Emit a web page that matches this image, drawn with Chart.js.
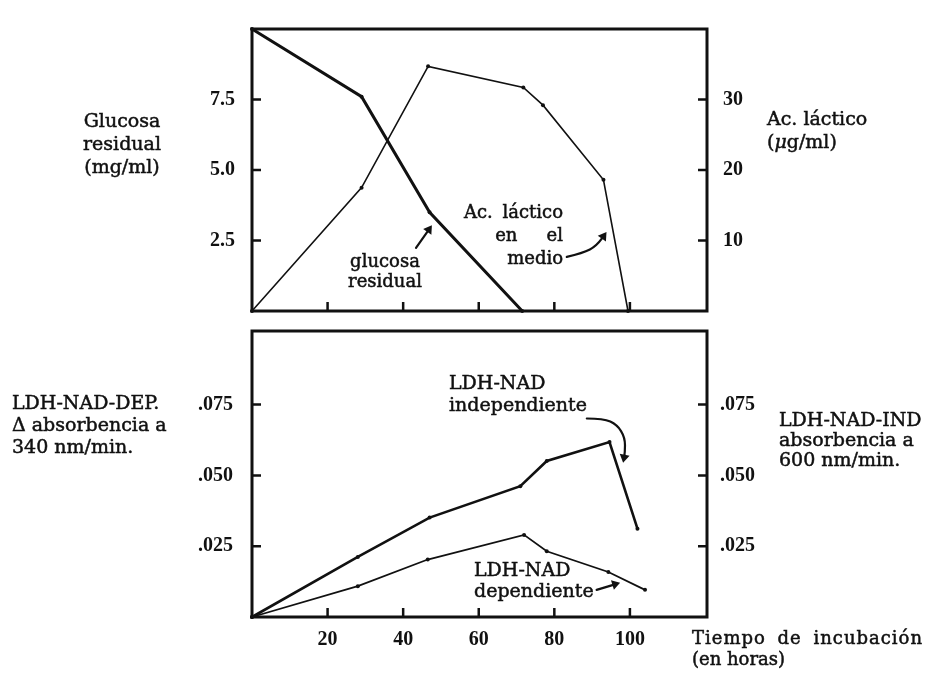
<!DOCTYPE html>
<html>
<head>
    <title>Glucosa residual, ácido láctico y LDH</title>
    <script src="https://cdn.jsdelivr.net/npm/chart.js"></script>
    <style>
        body {
            margin: 0;
            background: #fff;
            font-family: "DejaVu Serif", serif;
            color: #111;
        }
        #lienzo {
            position: relative;
            width: 929px;
            height: 674px;
        }
        canvas {
            position: absolute;
            left: 0;
        }
        #arriba { top: 0; }
        #abajo { top: 300px; }
        .txt {
            position: absolute;
            font-size: 18px;
            white-space: nowrap;
            -webkit-text-stroke: 0.5px #111;
        }
    </style>
</head>
<body>
<div id="lienzo">
    <canvas id="arriba" width="929" height="340"></canvas>
    <canvas id="abajo" width="929" height="374"></canvas>

    <div class="txt" style="left:42px;width:160px;top:109px;line-height:23px;text-align:center;font-size:19px">Glucosa<br>residual<br>(mg/ml)</div>
    <div class="txt" style="left:767px;top:107px;line-height:23px;font-size:19px">Ac. láctico<br>(<i>μ</i>g/ml)</div>
    <div class="txt" style="left:12px;top:391px;line-height:22px;font-size:19px">LDH-NAD-DEP.<br>Δ absorbencia a<br>340 nm/min.</div>
    <div class="txt" style="left:779px;top:409px;line-height:20px;font-size:19px">LDH-NAD-IND<br>absorbencia a<br>600 nm/min.</div>
    <div class="txt" style="left:692px;top:627px;line-height:21px"><span style="letter-spacing:1px;word-spacing:5px">Tiempo de incubación</span><br>(en horas)</div>

    <div class="txt" style="left:305px;width:160px;top:251px;line-height:20px;text-align:center">glucosa<br>residual</div>
    <div class="txt" style="right:366px;top:200px;line-height:23px;text-align:right;word-spacing:4px">Ac. láctico<br>en&nbsp;&nbsp;&nbsp;el<br>medio</div>
    <div class="txt" style="left:449px;top:371px;line-height:22px;font-size:19px">LDH-NAD<br>independiente</div>
    <div class="txt" style="left:474px;top:559px;line-height:21px;font-size:19px">LDH-NAD<br>dependiente</div>
</div>

<script>
    // eje de tiempo (horas)
    const horasTicks = [20, 40, 60, 80, 100];
    const horasMax = 120.4;

    // panel superior
    const glucosaHoras = [0, 29, 47, 71.5];
    const glucosaValores = [10, 7.6, 3.5, 0];
    const glucosaTicks = [2.5, 5.0, 7.5];

    const lacticoHoras = [0, 29, 46.6, 71.8, 77, 93, 99.5];
    const lacticoValores = [0, 17.5, 34.7, 31.7, 29.2, 18.6, 0];
    const lacticoTicks = [10, 20, 30];

    // panel inferior
    const indHoras = [0, 28, 47, 71, 78, 94.6, 102];
    const indValores = [0, 0.0212, 0.0351, 0.0462, 0.0551, 0.0618, 0.0312];
    const depHoras = [0, 28, 46.5, 72, 78, 94.3, 104];
    const depValores = [0, 0.0109, 0.0203, 0.029, 0.0232, 0.0159, 0.0096];
    const absTicks = [0.025, 0.050, 0.075];

    const tinta = '#111';
    const fuenteTicks = {family: 'Liberation Serif', size: 20, weight: 'bold'};

    const puntos = (xs, ys) => xs.map((x, i) => ({x: x, y: ys[i]}));

    function serie(xs, ys, eje, grosor) {
        return {
            data: puntos(xs, ys),
            yAxisID: eje,
            borderColor: tinta,
            backgroundColor: tinta,
            borderWidth: grosor,
            pointRadius: 2,
            pointBorderWidth: 0,
            pointHoverRadius: 0,
            tension: 0,
            clip: false
        };
    }

    function ejeY(pos, max, lista, ancho, pad, fmt) {
        return {
            type: 'linear',
            position: pos,
            min: 0,
            max: max,
            grid: {display: false, drawTicks: false},
            border: {display: false},
            afterBuildTicks: s => { s.ticks = lista.map(v => ({value: v})); },
            afterFit: s => { s.width = ancho; },
            ticks: {padding: pad, color: tinta, font: fuenteTicks, callback: fmt}
        };
    }

    function ejeX(alto, conEtiquetas) {
        return {
            type: 'linear',
            min: 0,
            max: horasMax,
            grid: {display: false, drawTicks: false},
            border: {display: false},
            afterBuildTicks: s => { s.ticks = horasTicks.map(v => ({value: v})); },
            afterFit: s => { s.height = alto; },
            ticks: {display: conEtiquetas, padding: 11, color: tinta, font: fuenteTicks, maxRotation: 0}
        };
    }

    // recuadro y marcas hacia dentro
    const marco = {
        id: 'marco',
        afterDatasetsDraw(chart) {
            const ctx = chart.ctx, a = chart.chartArea, sx = chart.scales.x;
            ctx.save();
            ctx.strokeStyle = tinta;
            ctx.lineWidth = 3;
            ctx.strokeRect(a.left, a.top, a.right - a.left, a.bottom - a.top);
            ctx.lineWidth = 2.5;
            ctx.beginPath();
            sx.ticks.forEach(t => {
                const px = sx.getPixelForValue(t.value);
                ctx.moveTo(px, a.bottom);
                ctx.lineTo(px, a.bottom - 9);
            });
            Object.values(chart.scales).forEach(s => {
                if (s.axis !== 'y') return;
                const izq = s.position === 'left';
                const x0 = izq ? a.left : a.right;
                s.ticks.forEach(t => {
                    const py = s.getPixelForValue(t.value);
                    ctx.moveTo(x0, py);
                    ctx.lineTo(x0 + (izq ? 9 : -9), py);
                });
            });
            ctx.stroke();
            ctx.restore();
        }
    };

    // flechas de las anotaciones, en coordenadas de datos
    function flechas(lista) {
        return {
            id: 'flechas',
            afterDatasetsDraw(chart) {
                const ctx = chart.ctx, sx = chart.scales.x;
                ctx.save();
                ctx.strokeStyle = tinta;
                ctx.fillStyle = tinta;
                ctx.lineWidth = 2.2;
                ctx.lineJoin = 'round';
                ctx.lineCap = 'round';
                lista.forEach(f => {
                    const sy = chart.scales[f.eje];
                    const p = f.puntos.map(q => [sx.getPixelForValue(q[0]), sy.getPixelForValue(q[1])]);
                    const n = p.length;
                    const fin = p[n - 1], ant = p[n - 2];
                    const ang = Math.atan2(fin[1] - ant[1], fin[0] - ant[0]);
                    const bx = fin[0] - 8 * Math.cos(ang), by = fin[1] - 8 * Math.sin(ang);
                    ctx.beginPath();
                    ctx.moveTo(p[0][0], p[0][1]);
                    for (let i = 1; i < n - 1; i++) {
                        const mx = (p[i][0] + p[i + 1][0]) / 2, my = (p[i][1] + p[i + 1][1]) / 2;
                        ctx.quadraticCurveTo(p[i][0], p[i][1], mx, my);
                    }
                    ctx.lineTo(bx, by);
                    ctx.stroke();
                    ctx.beginPath();
                    ctx.moveTo(fin[0], fin[1]);
                    ctx.lineTo(bx + 5 * Math.sin(ang), by - 5 * Math.cos(ang));
                    ctx.lineTo(bx - 5 * Math.sin(ang), by + 5 * Math.cos(ang));
                    ctx.closePath();
                    ctx.fill();
                });
                ctx.restore();
            }
        };
    }

    const comunes = {
        responsive: false,
        animation: false,
        events: [],
        plugins: {legend: {display: false}, tooltip: {enabled: false}}
    };

    new Chart(document.getElementById('arriba'), {
        type: 'line',
        data: {
            datasets: [
                serie(glucosaHoras, glucosaValores, 'yG', 3),
                serie(lacticoHoras, lacticoValores, 'yL', 1.6)
            ]
        },
        options: Object.assign({}, comunes, {
            layout: {padding: {top: 15, left: 0, right: 0, bottom: 0}},
            scales: {
                x: ejeX(26, false),
                yG: ejeY('left', 10, glucosaTicks, 252, 17, v => v.toFixed(1)),
                yL: ejeY('right', 40, lacticoTicks, 222, 16, v => String(v))
            }
        }),
        plugins: [marco, flechas([
            {eje: 'yG', puntos: [[43.4, 2.24], [47.6, 3.04]]},
            {eje: 'yL', puntos: [[83.3, 7.67], [87.6, 8.2], [91.2, 9.24], [93.8, 11.2]]}
        ])]
    });

    new Chart(document.getElementById('abajo'), {
        type: 'line',
        data: {
            datasets: [
                serie(indHoras, indValores, 'yI', 2.6),
                serie(depHoras, depValores, 'yD', 1.8)
            ]
        },
        options: Object.assign({}, comunes, {
            layout: {padding: {top: 14, left: 0, right: 0, bottom: 0}},
            scales: {
                x: ejeX(57, true),
                yD: ejeY('left', 0.101, absTicks, 252, 19, v => v.toFixed(3).replace(/^0/, '')),
                yI: ejeY('right', 0.101, absTicks, 222, 13, v => v.toFixed(3).replace(/^0/, ''))
            }
        }),
        plugins: [marco, flechas([
            {eje: 'yI', puntos: [[88.6, 0.0701], [93.0, 0.0701], [96.6, 0.0679], [98.7, 0.0634], [98.7, 0.0579], [98.2, 0.0545]]},
            {eje: 'yD', puntos: [[91.2, 0.00957], [97.4, 0.0121]]}
        ])]
    });
</script>
</body>
</html>
